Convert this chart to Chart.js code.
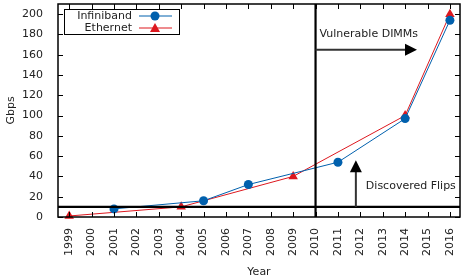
<!DOCTYPE html>
<html>
<head>
<meta charset="utf-8">
<script src="https://cdn.jsdelivr.net/npm/chart.js@4"></script>
<style>
  html, body { margin: 0; padding: 0; background: #fff; }
  #wrap { width: 461px; height: 279px; }
</style>
</head>
<body>
<div id="wrap"><canvas id="grafico"></canvas></div>
<script>
// datos
const years = [1999, 2000, 2001, 2002, 2003, 2004, 2005, 2006, 2007, 2008,
               2009, 2010, 2011, 2012, 2013, 2014, 2015, 2016];
const yTicks = [0, 20, 40, 60, 80, 100, 120, 140, 160, 180, 200];

const infinibandYears = [2001, 2005, 2007, 2011, 2014, 2016];
const infinibandGbps  = [8, 16, 32, 54, 97, 194];

const ethernetYears = [1999, 2004, 2009, 2014, 2016];
const ethernetGbps  = [1, 10, 40, 100, 200];

const blue = '#0060ad';
const red = '#dd181f';
const font = 'DejaVu Sans';

// marcas del frame, lineas de referencia, flechas y leyenda
const extras = {
    id: 'extras',
    afterDatasetsDraw(chart) {
        const ctx = chart.ctx;
        const a = chart.chartArea;
        const sx = chart.scales.x, sy = chart.scales.y;
        ctx.save();

        // ticks hacia adentro
        ctx.strokeStyle = '#000';
        ctx.lineWidth = 1;
        ctx.beginPath();
        years.forEach(v => {
            const px = Math.round(sx.getPixelForValue(v)) + 0.5;
            ctx.moveTo(px, a.bottom); ctx.lineTo(px, a.bottom - 5);
            ctx.moveTo(px, a.top); ctx.lineTo(px, a.top + 5);
        });
        yTicks.forEach(v => {
            const py = Math.round(sy.getPixelForValue(v)) + 0.5;
            ctx.moveTo(a.left, py); ctx.lineTo(a.left + 5, py);
            ctx.moveTo(a.right, py); ctx.lineTo(a.right - 5, py);
        });
        ctx.stroke();

        // lineas gruesas: 2010 y 10 Gbps
        ctx.lineWidth = 2.2;
        ctx.beginPath();
        const x2010 = sx.getPixelForValue(2010);
        ctx.moveTo(x2010, a.top); ctx.lineTo(x2010, a.bottom);
        const y10 = sy.getPixelForValue(10);
        ctx.moveTo(a.left, y10); ctx.lineTo(a.right, y10);
        ctx.stroke();

        // frame
        ctx.lineWidth = 1.5;
        ctx.strokeRect(a.left, a.top, a.right - a.left, a.bottom - a.top);

        // flechas
        ctx.strokeStyle = '#333';
        ctx.fillStyle = '#000';
        ctx.lineWidth = 2;
        const ya = sy.getPixelForValue(165);
        const xa0 = x2010, xa1 = sx.getPixelForValue(2014.53);
        ctx.beginPath(); ctx.moveTo(xa0, ya); ctx.lineTo(xa1 - 8, ya); ctx.stroke();
        ctx.beginPath();
        ctx.moveTo(xa1, ya); ctx.lineTo(xa1 - 12, ya - 6); ctx.lineTo(xa1 - 12, ya + 6);
        ctx.closePath(); ctx.fill();

        const xb = sx.getPixelForValue(2011.8);
        const yb0 = y10, yb1 = sy.getPixelForValue(56);
        ctx.beginPath(); ctx.moveTo(xb, yb0); ctx.lineTo(xb, yb1 + 8); ctx.stroke();
        ctx.beginPath();
        ctx.moveTo(xb, yb1); ctx.lineTo(xb - 6, yb1 + 12); ctx.lineTo(xb + 6, yb1 + 12);
        ctx.closePath(); ctx.fill();

        ctx.fillStyle = '#222';
        ctx.font = '11px "' + font + '"';
        ctx.textBaseline = 'middle';
        ctx.textAlign = 'left';
        ctx.fillText('Vulnerable DIMMs', xa0 + 4, ya - 16);
        ctx.fillText('Discovered Flips', xb + 10, sy.getPixelForValue(30));

        // leyenda
        const lx = a.left + 6, ly = a.top + 5, lw = 115, lh = 25;
        ctx.fillStyle = '#fff';
        ctx.fillRect(lx, ly, lw, lh);
        ctx.strokeStyle = '#000';
        ctx.lineWidth = 1;
        ctx.strokeRect(lx + 0.5, ly + 0.5, lw, lh);
        const rows = [
            { text: 'Infiniband', color: blue, style: 'circle' },
            { text: 'Ethernet', color: red, style: 'triangle' }
        ];
        rows.forEach((r, i) => {
            const cy = ly + 7 + i * 12;
            ctx.fillStyle = '#222';
            ctx.textAlign = 'right';
            ctx.fillText(r.text, lx + 68, cy);
            ctx.strokeStyle = r.color;
            ctx.beginPath(); ctx.moveTo(lx + 75, cy); ctx.lineTo(lx + 108, cy); ctx.stroke();
            ctx.fillStyle = r.color;
            ctx.beginPath();
            if (r.style === 'circle') {
                ctx.arc(lx + 91, cy, 4.5, 0, Math.PI * 2);
            } else {
                ctx.moveTo(lx + 91, cy - 5); ctx.lineTo(lx + 96, cy + 4); ctx.lineTo(lx + 86, cy + 4);
                ctx.closePath();
            }
            ctx.fill();
        });
        ctx.restore();
    }
};

Chart.defaults.font.family = font;
Chart.defaults.font.size = 11;
Chart.defaults.color = '#222';

let lineal = document.getElementById('grafico').getContext('2d');

var chart = new Chart(lineal, {
    type: 'line',
    data: {
        datasets: [
            {
                label: 'Infiniband',
                data: infinibandYears.map((y, i) => ({ x: y, y: infinibandGbps[i] })),
                borderColor: blue,
                backgroundColor: blue,
                borderWidth: 1,
                pointStyle: 'circle',
                pointRadius: 4.5,
                pointBorderWidth: 0,
                tension: 0,
                clip: 8
            },
            {
                label: 'Ethernet',
                data: ethernetYears.map((y, i) => ({ x: y, y: ethernetGbps[i] })),
                borderColor: red,
                backgroundColor: red,
                borderWidth: 1,
                pointStyle: 'triangle',
                pointRadius: 5.5,
                pointBorderWidth: 0,
                tension: 0,
                clip: 8
            }
        ]
    },
    options: {
        responsive: true,
        maintainAspectRatio: false,
        animation: false,
        layout: { autoPadding: false, padding: { top: 4, right: 1, left: 0, bottom: 0 } },
        plugins: { legend: { display: false }, tooltip: { enabled: false } },
        scales: {
            x: {
                type: 'linear',
                min: 1998.5,
                max: 2016.45,
                grid: { display: false },
                border: { display: false },
                afterBuildTicks: s => { s.ticks = years.map(v => ({ value: v })); },
                afterFit: s => { s.height = 62; s.paddingLeft = 0; s.paddingRight = 0; },
                ticks: {
                    minRotation: 90,
                    maxRotation: 90,
                    padding: 3,
                    autoSkip: false,
                    callback: v => String(v)
                },
                title: { display: true, text: 'Year', padding: { top: 4, bottom: 0 } }
            },
            y: {
                min: 0,
                max: 210,
                grid: { display: false },
                border: { display: false },
                afterBuildTicks: s => { s.ticks = yTicks.map(v => ({ value: v })); },
                afterFit: s => { s.width = 58; s.paddingTop = 0; s.paddingBottom = 0; },
                ticks: { padding: 7 },
                title: { display: true, text: 'Gbps', padding: { top: 5, bottom: 0 } }
            }
        }
    },
    plugins: [extras]
});
</script>
</body>
</html>
